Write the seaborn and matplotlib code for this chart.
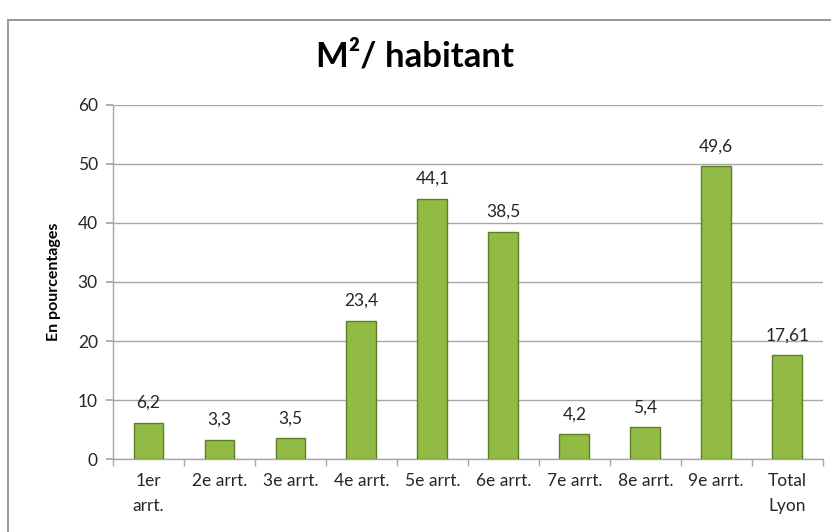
import matplotlib
matplotlib.use("Agg")
import matplotlib.pyplot as plt
import matplotlib.patches as mpatches
from matplotlib.ticker import MultipleLocator, FixedLocator
import seaborn as sns
import pandas as pd

# Données
categories = ["1er\narrt.", "2e arrt.", "3e arrt.", "4e arrt.", "5e arrt.",
              "6e arrt.", "7e arrt.", "8e arrt.", "9e arrt.", "Total\nLyon"]
values = [6.2, 3.3, 3.5, 23.4, 44.1, 38.5, 4.2, 5.4, 49.6, 17.61]
labels = ["6,2", "3,3", "3,5", "23,4", "44,1", "38,5", "4,2", "5,4", "49,6", "17,61"]


def main() -> None:
    sns.set_theme(style="white")
    plt.rcParams["font.family"] = ["Lato", "DejaVu Sans"]

    df = pd.DataFrame({"cat": categories, "val": values})

    fig = plt.figure(figsize=(8.31, 5.32), dpi=100)
    ax = fig.add_axes([0.136, 0.137, 0.854, 0.666])

    # Cadre extérieur du graphique (coupé à droite et en bas)
    frame = mpatches.Rectangle((8 / 831, -0.1), 1.2, 1.1 - 20 / 532,
                               transform=fig.transFigure, fill=False,
                               edgecolor="#868686", linewidth=1.2, zorder=0)
    fig.patches.append(frame)

    sns.barplot(data=df, x="cat", y="val", color="#92BB45", width=0.42,
                edgecolor="#5E7F23", linewidth=1.0, saturation=1, ax=ax, zorder=3)

    # Étiquettes de données
    for i, (v, lab) in enumerate(zip(values, labels)):
        ax.text(i, v + 2.0, lab, ha="center", va="bottom", fontsize=12.5,
                color="#262626")

    ax.set_ylim(0, 60)
    ax.set_xlim(-0.5, len(categories) - 0.5)
    ax.yaxis.set_major_locator(MultipleLocator(10))
    ax.grid(axis="y", color="#A6A6A6", linewidth=1.0, zorder=0)
    ax.set_axisbelow(True)

    for s in ["top", "right"]:
        ax.spines[s].set_visible(False)
    for s in ["left", "bottom"]:
        ax.spines[s].set_color("#A6A6A6")
        ax.spines[s].set_linewidth(1.0)

    # Graduations : aux limites des catégories sur l'axe x
    ax.xaxis.set_minor_locator(FixedLocator([i - 0.5 for i in range(len(categories) + 1)]))
    ax.tick_params(axis="x", which="minor", direction="out", length=5,
                   color="#A6A6A6", bottom=True)
    ax.tick_params(axis="x", which="major", length=0, labelsize=12.5,
                   labelcolor="#262626", pad=10)
    for t in ax.get_xticklabels():
        t.set_linespacing(1.7)
    ax.tick_params(axis="y", direction="out", length=5, color="#A6A6A6",
                   labelsize=12.5, labelcolor="#262626", left=True, pad=6)

    ax.set_xlabel("")
    ax.set_ylabel("En pourcentages", fontsize=11.5, fontweight="bold",
                  color="#000000", labelpad=12)

    fig.text(0.5, 0.893, "M²/ habitant", ha="center", va="center",
             fontsize=25, fontweight="bold", color="#000000")

    fig.savefig("out.png", dpi=100)


if __name__ == "__main__":
    main()
